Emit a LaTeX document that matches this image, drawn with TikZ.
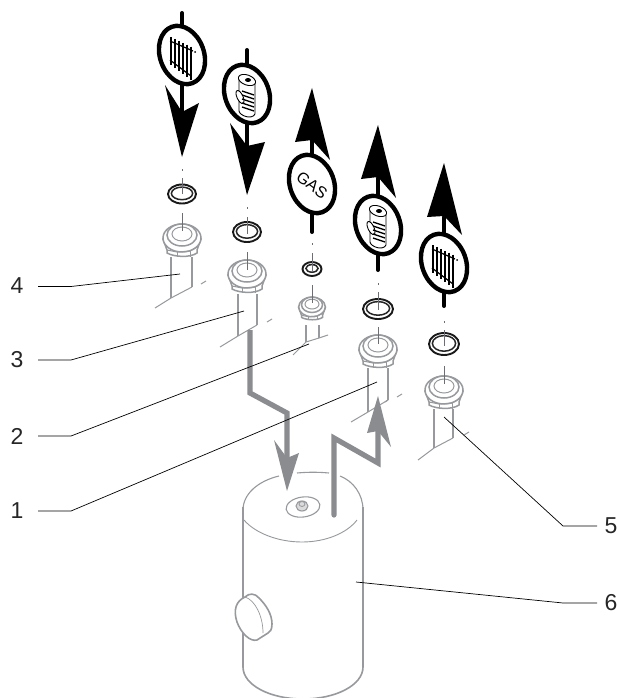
\documentclass[tikz,border=0pt]{standalone}
\usepackage{fontspec}
\setmainfont{Liberation Sans}
\definecolor{lg}{HTML}{97999C}
\definecolor{ag}{HTML}{8A8C8F}
\definecolor{dg}{HTML}{6D6E71}
\tikzset{
  sym/.style={line width=1.2pt,black},
  stemline/.style={line width=4pt,black,line cap=round},
  oval/.style={line width=4.4pt,black,fill=white},
  pipeline/.style={line width=1.5pt,lg},
  thinpipe/.style={line width=1pt,lg},
  axisline/.style={line width=1pt,dg},
  leader/.style={line width=0.7pt,black},
  grayarrow/.style={line width=5.2pt,ag,line join=miter},
  tank/.style={line width=1.6pt,lg},
  lab/.style={font=\fontsize{23}{23}\selectfont,black!85,inner sep=0pt},
}
\newcommand{\headshape}[4]{\fill[black,line join=round] #1 -- #2 -- #3 -- #4 -- cycle;}
\newcommand{\radsym}[2]{%
  \begin{scope}[shift={(#1,#2)}]
    \foreach \xx in {-11,-7,-3,1,5,9}{
      \pgfmathsetmacro{\ya}{-18+0.48*(\xx+11)}
      \pgfmathsetmacro{\yb}{10+0.75*(\xx+11)}
      \draw[sym] (\xx,\ya) -- (\xx,\yb);
    }
    \draw[sym] (-12,-14) -- (11,-4);
    \draw[sym] (-12,5) -- (9,21);
    \fill (13,-3) circle[radius=1];
  \end{scope}}
\newcommand{\tanksym}[2]{%
  \begin{scope}[shift={(#1,#2)}]
    \draw[line width=0.9pt,black,fill=white] (-8,-14) -- (-8,17) .. controls (-7,22) and (5,26) .. (8,20) -- (8,-10);
    \draw[line width=0.9pt,black,fill=white,rotate around={-20:(0,-14)}] (0,-14) circle[x radius=9,y radius=5];
    \fill (1,-14) circle[x radius=3,y radius=2];
    \draw[line width=0.9pt,black,fill=white,rotate around={25:(-7,3)}] (-7,3) circle[x radius=3,y radius=7];
    \foreach \yy in {-3,1,5,9,13}{
      \draw[line width=1.4pt] (-5,\yy) -- (7,\yy+4);
    }
  \end{scope}}
\newcommand{\nut}[3]{%
  \begin{scope}[shift={(#1,#2)},scale=#3]
    \draw[pipeline,fill=white] (-19,-2) -- (-15,9) -- (-15,12) .. controls (-8,16) and (8,17) .. (15,12) -- (15,9) -- (19,-2) -- cycle;
    \draw[pipeline,fill=white] (0,-3) circle[x radius=19,y radius=14];
    \draw[thinpipe] (-15,9) -- (-5,11) -- (8,10) -- (15,6);
    \draw[thinpipe] (-5,11) -- (-5,16) (8,10) -- (8,16);
    \draw[pipeline,fill=white] (0,-6) circle[x radius=15,y radius=11];
    \draw[thinpipe,fill=white] (0,-7) circle[x radius=10,y radius=7];
  \end{scope}}
\newcommand{\seal}[4]{%
  \draw[line width=1.9pt,black!90] (#1,#2) circle[x radius=#3,y radius=#4];
  \draw[line width=1.5pt,black!85] (#1,#2-0.6) circle[x radius=#3-3.4,y radius=#4-3.2];}
\newcommand{\pipe}[9]{%
  \draw[pipeline] (#1,#3) -- (#1,#4) (#2,#3) -- (#2,#5);
  \draw[thinpipe] (#6,#7) -- (#1,#4) -- (#2,#5);
  \draw[thinpipe] (#8,#5-#9*0.6) -- ++(#9,-#9*0.6);}
\begin{document}
\begin{tikzpicture}[x=1pt,y=-1pt]
\useasboundingbox (0,0) rectangle (618,698);
\fill[white] (0,0) rectangle (618,698);

% --- tank ---
\draw[tank] (243,507) -- (243,667) .. controls (243,685) and (270,699) .. (303,699) .. controls (336,699) and (363,685) .. (363,667) -- (363,507);
\draw[line width=0.9pt,lg] (244,520) .. controls (255,533) and (278,542) .. (302,542) .. controls (326,542) and (347,533) .. (357,520);
\draw[line width=1.1pt,lg] (243,510) .. controls (243,494) and (258,481) .. (279,476);
\draw[line width=1.1pt,lg] (297,473) .. controls (308,472) and (318,472) .. (329,473);
\draw[line width=1.1pt,lg] (340,476) .. controls (353,481) and (363,494) .. (363,510);
% boss on tank
\draw[line width=1.1pt,lg,rotate around={8:(303,507)}] (303,507) circle[x radius=17,y radius=10];
\draw[line width=1.1pt,lg,fill=lg!35] (302,506) circle[x radius=6,y radius=5];
\draw[line width=0.8pt,lg] (302,504) circle[x radius=3,y radius=2.5];
% cap
\draw[tank,fill=white] (245,597) .. controls (249,593) and (255,593) .. (259,598) .. controls (266,605) and (272,614) .. (272,624) .. controls (272,630) and (270,632) .. (268,633) -- (257,640) .. controls (250,642) and (241,633) .. (237,622) .. controls (233,610) and (236,601) .. (245,597) -- cycle;
\draw[line width=0.7pt,lg] (245,597) .. controls (255,600) and (263,616) .. (263,633);

% --- pipes ---
\pipe{171}{192}{257}{298}{287}{155}{308}{201}{5}
\pipe{238}{257}{294}{336}{325}{220}{347}{267}{5}
\pipe{306}{319}{325}{342}{338}{293}{355}{328}{0}
\draw[thinpipe] (319,338) -- (328,335);
\pipe{368}{388}{368}{412}{400}{351}{422}{397}{5}
\draw[thinpipe] (385,402) -- (388,400);
\pipe{434}{453}{409}{448}{438}{418}{460}{464}{5}

% --- nuts ---
\nut{182}{241}{1}
\nut{247}{277}{1}
\nut{312}{309}{0.7}
\nut{378}{352}{1}
\nut{444}{393}{1}

% --- seals ---
\seal{182}{194}{14}{9.5}
\seal{247}{232}{14}{10}
\seal{312}{269}{9.5}{7}
\seal{378}{309}{15}{10}
\seal{444}{344}{15}{11}

% --- axis lines ---
\draw[axisline] (182,169) -- (182,171) (182,178) -- (182,194) (182,213) -- (182,231);
\draw[axisline] (247,207) -- (247,209) (247,217) -- (247,234) (247,252) -- (247,270);
\draw[axisline] (312,243) -- (312,245) (312,253) -- (312,272) (312,285) -- (312,303);
\draw[axisline] (378,283) -- (378,285) (378,292) -- (378,310) (378,327) -- (378,344);
\draw[axisline] (444,321) -- (444,323) (444,330) -- (444,346) (444,366) -- (444,384);

% --- black flow symbols ---
\draw[stemline] (182,13) -- (182,115);
\draw[oval,rotate around={20:(182,55)}] (182,55) circle[x radius=22,y radius=30];
\radsym{182}{55}
\headshape{(182,157)}{(165,85)}{(182,112)}{(199,103)}

\draw[stemline] (247,50) -- (247,150);
\draw[oval,rotate around={20:(247,94)}] (247,94) circle[x radius=22,y radius=30];
\tanksym{247}{94}
\headshape{(247,195)}{(230,123)}{(247,146)}{(265,142)}

\draw[stemline] (312,140) -- (312,232);
\headshape{(312,88)}{(295,142)}{(312,140)}{(330,160)}
\draw[oval,rotate around={20:(312,184)}] (312,184) circle[x radius=22,y radius=30];
\node[rotate=-37,inner sep=0pt,font=\fontsize{16}{16}\selectfont] (gas) at (312,185) {GAS};

\draw[stemline] (378,178) -- (378,270);
\headshape{(378,125)}{(361,179)}{(378,177)}{(396,198)}
\draw[oval,rotate around={20:(378,225)}] (378,225) circle[x radius=22,y radius=30];
\tanksym{378}{225}

\draw[stemline] (444,217) -- (444,306);
\headshape{(444,163)}{(427,217)}{(444,216)}{(462,235)}
\draw[oval,rotate around={20:(444,263)}] (444,263) circle[x radius=22,y radius=30];
\radsym{444}{263}

% --- grey flow arrows ---
\draw[grayarrow] (250,330) -- (250,393) -- (287,413) -- (287,460);
\fill[ag] (287,491) -- (274,440) -- (287,458) -- (299,453) -- cycle;
\draw[grayarrow,line cap=round] (334,515) -- (334,438) -- (378,463) -- (378,430);
\fill[ag] (378,396) -- (367,433) -- (378,431) -- (391,447) -- cycle;

% --- labels and leaders ---
\node[lab] (l4) at (17,286) {4};
\node[lab] (l3) at (17,360) {3};
\node[lab] (l2) at (17,436) {2};
\node[lab] (l1) at (17,511) {1};
\node[lab] (l5) at (611,526) {5};
\node[lab] (l6) at (611,603) {6};
\coordinate (e4) at (180,274);
\coordinate (e3) at (244,311);
\coordinate (e2) at (309,344);
\coordinate (e1) at (377,382);
\coordinate (e5) at (444,417);
\coordinate (e6) at (356,582);
\coordinate (k4) at (71,286.5);
\coordinate (k3) at (71,360);
\coordinate (k2) at (71,436);
\coordinate (k1) at (71,511);
\coordinate (k5) at (563,526);
\coordinate (k6) at (563,603);
\draw[leader] (38,286.5) -- (k4) -- (e4);
\draw[leader] (38,360) -- (k3) -- (e3);
\draw[leader] (38,436) -- (k2) -- (e2);
\draw[leader] (38,511) -- (k1) -- (e1);
\draw[leader] (597,526) -- (k5) -- (e5);
\draw[leader] (597,603) -- (k6) -- (e6);
\end{tikzpicture}
\end{document}
